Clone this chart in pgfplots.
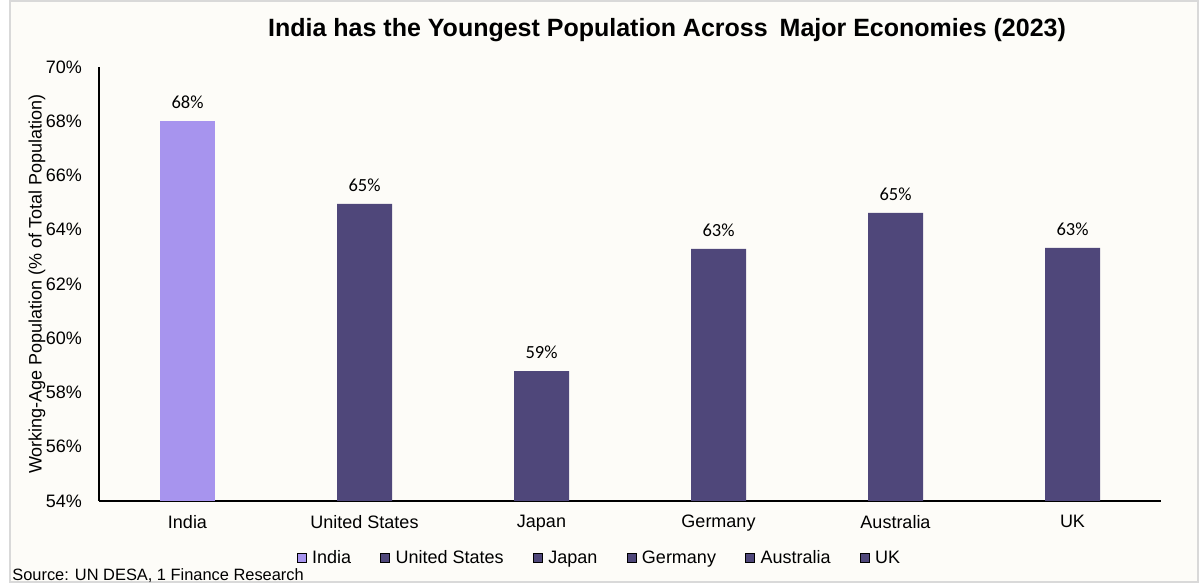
\documentclass[border=0pt]{standalone}
\usepackage{pgfplots}
\pgfplotsset{compat=1.18}
\usepackage{fontspec}
\setmainfont{Liberation Sans}
\newfontfamily\carlito{Carlito}
\definecolor{indiac}{HTML}{A794EE}
\definecolor{darkc}{HTML}{4F477A}
\definecolor{bgc}{HTML}{FDFCF8}
\definecolor{borderc}{HTML}{D9D9D9}
\begin{document}
\begin{tikzpicture}
\path[use as bounding box] (0,0) rectangle (600pt,293.5pt);
\fill[white] (0,0) rectangle (600pt,293.5pt);
\filldraw[fill=bgc,draw=borderc,line width=1pt] (5pt,2.5pt) rectangle (599pt,293pt);
\node[font=\bfseries\fontsize{12.5}{15}\selectfont] at (333.5pt,278.5pt) {India has the Youngest Population Across\hspace{0.2em} Major Economies (2023)};
\node[anchor=base west,font=\fontsize{8.2}{10}\selectfont,inner sep=0pt] at (6pt,3pt) {Source: UN DESA, 1 Finance Research};
\begin{axis}[
  at={(49.5pt,43pt)}, anchor=south west,
  width=531pt, height=217pt, scale only axis,
  xmin=-0.5, xmax=5.5, ymin=54, ymax=70,
  axis x line*=bottom, axis y line*=left,
  axis line style={black, line width=0.9pt, -},
  ybar, bar shift=0pt, bar width=27.5pt,
  ytick={54,56,...,70},
  yticklabel={\pgfmathprintnumber{\tick}\%},
  /pgf/number format/assume math mode=true,
  xtick={0,1,2,3,4,5},
  xticklabels={India,United States,Japan,Germany,Australia,UK},
  major tick length=0pt,
  tick label style={font=\fontsize{9}{11}\selectfont, black},
  yticklabel style={xshift=-5pt},
  xticklabel style={yshift=-3.5pt},
  ylabel={Working-Age Population (\% of Total Population)},
  every axis y label/.style={at={(axis description cs:-0.0584,0.5)}, rotate=90, anchor=center, font=\fontsize{9}{11}\selectfont},
  nodes near coords={\pgfmathprintnumber[fixed,precision=0]{\pgfplotspointmeta}\%},
  every node near coord/.append style={font=\carlito\fontsize{9.25}{11}\selectfont, inner sep=0pt, anchor=south, yshift=6pt, black},
  legend columns=6,
  legend style={at={(0.4718,-0.1335)}, anchor=center, draw=none, fill=none, font=\fontsize{9}{11}\selectfont,
    /tikz/every odd column/.append style={column sep=1.2pt},
    /tikz/every even column/.append style={column sep=13.2pt},
    nodes={inner sep=1.5pt}},
  legend image code/.code={\fill[#1] (0pt,-1.6pt) rectangle (4.5pt,2.9pt);},
]
\addplot[fill=indiac, draw=none, bar shift=0pt, forget plot] coordinates {(0,68.01)};
\addplot[fill=darkc, draw=none, bar shift=0pt, forget plot] coordinates {(1,64.95) (2,58.79) (3,63.29) (4,64.62) (5,63.33)};
\addlegendimage{fill=indiac}\addlegendentry{India}
\addlegendimage{fill=darkc}\addlegendentry{United States}
\addlegendimage{fill=darkc}\addlegendentry{Japan}
\addlegendimage{fill=darkc}\addlegendentry{Germany}
\addlegendimage{fill=darkc}\addlegendentry{Australia}
\addlegendimage{fill=darkc}\addlegendentry{UK}
\end{axis}
\end{tikzpicture}
\end{document}
